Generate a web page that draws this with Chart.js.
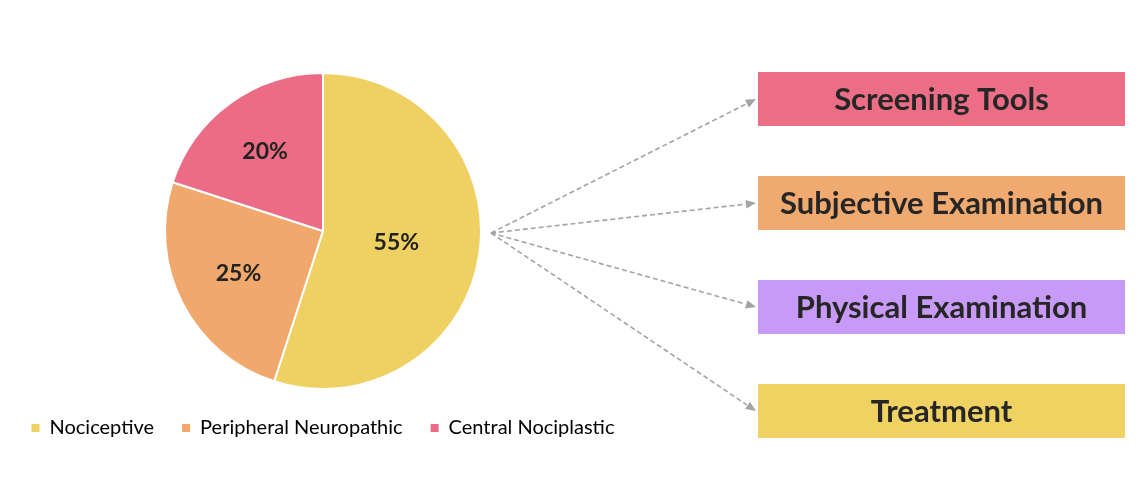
<!DOCTYPE html>
<html>
<head>
<meta charset="utf-8">
<script src="https://cdn.jsdelivr.net/npm/chart.js@4"></script>
<style>
  html, body { margin: 0; padding: 0; background: #fff; }
  #wrap { width: 1142px; height: 482px; position: relative; }
</style>
</head>
<body>
<div id="wrap"><canvas id="painChart"></canvas></div>
<script>
const painTypes = ['Nociceptive', 'Peripheral Neuropathic', 'Central Nociplastic'];
const painShares = [55, 25, 20];
const painColors = ['#EFD062', '#F0A86D', '#EB6C84'];

const steps = ['Screening Tools', 'Subjective Examination', 'Physical Examination', 'Treatment'];
const stepColors = ['#EC6E86', '#F0A96E', '#C69AF6', '#F0D262'];

// percent labels near the centroid of each slice
const sliceLabels = {
  id: 'sliceLabels',
  afterDatasetsDraw(chart) {
    const ctx = chart.ctx;
    const meta = chart.getDatasetMeta(0);
    ctx.save();
    ctx.font = 'bold 23px Lato';
    ctx.fillStyle = '#222';
    ctx.textAlign = 'center';
    ctx.textBaseline = 'middle';
    meta.data.forEach((arc, i) => {
      const mid = (arc.startAngle + arc.endAngle) / 2;
      const half = (arc.endAngle - arc.startAngle) / 2;
      const R = arc.outerRadius;
      const r = Math.max(2 * R * Math.sin(half) / (3 * half), 0.47 * R);
      ctx.fillText(painShares[i] + '%', arc.x + Math.cos(mid) * r, arc.y + Math.sin(mid) * r);
    });
    ctx.restore();
  }
};

// boxes on the right and dashed arrows from the pie
const stepBoxes = {
  id: 'stepBoxes',
  afterDraw(chart) {
    const ctx = chart.ctx;
    const arc = chart.getDatasetMeta(0).data[0];
    const ox = arc.x + arc.outerRadius + 10, oy = arc.y + 2;
    const left = 758, w = 367, h = 54;
    ctx.save();
    steps.forEach((label, i) => {
      const top = 72 + i * 104;
      const ty = top + h / 2;
      ctx.fillStyle = stepColors[i];
      ctx.fillRect(left, top, w, h);
      ctx.fillStyle = '#262626';
      ctx.font = 'bold 31px Lato';
      ctx.textAlign = 'center';
      ctx.textBaseline = 'middle';
      ctx.fillText(label, left + w / 2, ty + 1);

      // arrow
      const ex = left - 2;
      const ang = Math.atan2(ty - oy, ex - ox);
      const hl = 11;
      ctx.strokeStyle = '#A3A3A3';
      ctx.fillStyle = '#A3A3A3';
      ctx.lineWidth = 1.6;
      ctx.setLineDash([5, 3]);
      ctx.beginPath();
      ctx.moveTo(ox, oy);
      ctx.lineTo(ex - Math.cos(ang) * hl, ty - Math.sin(ang) * hl);
      ctx.stroke();
      ctx.setLineDash([]);
      ctx.beginPath();
      ctx.moveTo(ex, ty);
      ctx.lineTo(ex - Math.cos(ang - 0.4) * hl, ty - Math.sin(ang - 0.4) * hl);
      ctx.lineTo(ex - Math.cos(ang + 0.4) * hl, ty - Math.sin(ang + 0.4) * hl);
      ctx.closePath();
      ctx.fill();
    });
    ctx.restore();
  }
};

new Chart(document.getElementById('painChart'), {
  type: 'pie',
  data: {
    labels: painTypes,
    datasets: [{
      data: painShares,
      backgroundColor: painColors,
      borderColor: '#fff',
      borderWidth: 2
    }]
  },
  options: {
    responsive: true,
    maintainAspectRatio: false,
    animation: false,
    layout: { padding: { top: 72, right: 496, bottom: 34, left: 0 } },
    plugins: {
      tooltip: { enabled: false },
      legend: {
        position: 'bottom',
        labels: {
          font: { family: 'Lato', size: 20 },
          color: '#333',
          boxWidth: 8,
          boxHeight: 8,
          padding: 28,
          generateLabels(chart) {
            return painTypes.map((t, i) => ({
              text: t, fillStyle: painColors[i], strokeStyle: painColors[i],
              lineWidth: 0, index: i, hidden: false
            }));
          }
        }
      }
    }
  },
  plugins: [sliceLabels, stepBoxes]
});
</script>
</body>
</html>
